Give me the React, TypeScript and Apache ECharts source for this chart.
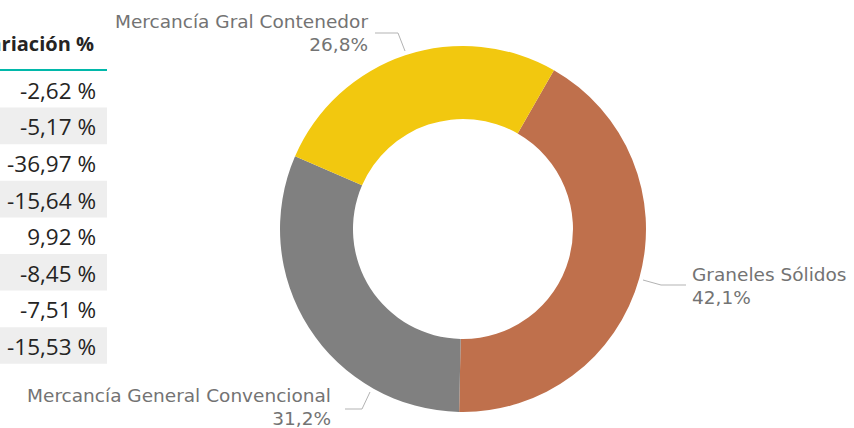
import React, { useEffect, useRef } from "react";
import * as echarts from "echarts";

const categories = ["Graneles Sólidos", "Mercancía General Convencional", "Mercancía Gral Contenedor"];
const shares = [42.1, 31.2, 26.8];
const sliceColors = ["#BF704C", "#808080", "#F2C80F"];

const tableHeader = "Variación %";
const variations = [-2.62, -5.17, -36.97, -15.64, 9.92, -8.45, -7.51, -15.53];

const fmtPct = (v: number, d: number) => v.toFixed(d).replace(".", ",");

// label placement (style only)
const labelPlacement: Record<number, any> = {
  0: { x: 692, y: 286, align: "left", pts: [[643, 280], [661, 285], [686, 285]] },
  1: { x: 331, y: 407, align: "right", pts: [[370, 392], [362, 409], [345, 409]] },
  2: { x: 368, y: 33, align: "right", pts: [[405, 51], [398, 33], [375, 33]] },
};

export default function App() {
  const ref = useRef<HTMLDivElement>(null);
  useEffect(() => {
    if (!ref.current) return;
    const chart = echarts.init(ref.current, null, { renderer: "svg" });
    const total = shares.reduce((a, b) => a + b, 0);

    const rowTop = 71;
    const rowH = 36.6;
    const tableRight = 107;
    const graphic: any[] = [];
    variations.forEach((v, i) => {
      if (i % 2 === 1) {
        graphic.push({
          type: "rect",
          shape: { x: 0, y: rowTop + i * rowH, width: tableRight, height: rowH },
          style: { fill: "#EEEEEE" },
          silent: true,
        });
      }
      graphic.push({
        type: "text",
        x: 96,
        y: rowTop + i * rowH + rowH / 2 + 1,
        style: {
          text: fmtPct(v, 2) + " %",
          fontFamily: "'Open Sans', sans-serif",
          fontSize: 22.5,
          fill: "#252423",
          align: "right",
          verticalAlign: "middle",
        },
        silent: true,
      });
    });
    graphic.push({
      type: "line",
      shape: { x1: 0, y1: 70, x2: tableRight, y2: 70 },
      style: { stroke: "#01B8AA", lineWidth: 2 },
      silent: true,
    });
    graphic.push({
      type: "text",
      x: 94,
      y: 43,
      style: {
        text: tableHeader,
        fontFamily: "'Open Sans', sans-serif",
        fontSize: 20,
        fontWeight: "bold",
        fill: "#252423",
        align: "right",
        verticalAlign: "middle",
      },
      silent: true,
    });

    chart.setOption({
      animation: false,
      backgroundColor: "#ffffff",
      graphic,
      series: [
        {
          type: "pie",
          center: [463, 229],
          radius: [110, 183],
          startAngle: 60.2,
          clockwise: true,
          avoidLabelOverlap: false,
          data: categories.map((c, i) => ({
            name: c,
            value: shares[i],
            itemStyle: { color: sliceColors[i] },
          })),
          label: {
            show: true,
            position: "outside",
            formatter: (p: any) => `${p.name}\n${fmtPct((p.value / total) * 100, 1)}%`,
            fontFamily: "'DejaVu Sans', sans-serif",
            fontSize: 18.5,
            lineHeight: 23,
            color: "#737373",
          },
          labelLine: {
            show: true,
            lineStyle: { color: "#B3B3B3", width: 1 },
          },
          labelLayout: (params: any) => {
            const p = labelPlacement[params.dataIndex];
            return {
              x: p.x,
              y: p.y,
              align: p.align,
              verticalAlign: "middle",
              labelLinePoints: p.pts,
            };
          },
          emphasis: { disabled: true },
        },
      ],
    });
    return () => chart.dispose();
  }, []);
  return (
    <div
      ref={ref}
      style={{ position: "fixed", left: 0, top: 0, width: 854, height: 428 }}
    />
  );
}
